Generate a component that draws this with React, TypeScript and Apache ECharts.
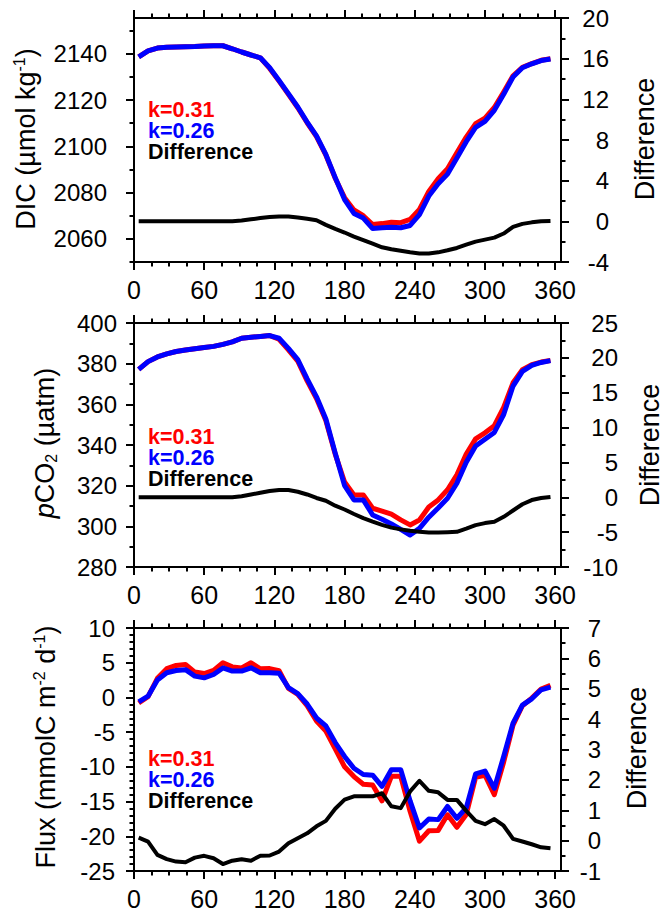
import React, { useEffect, useRef } from 'react';
import * as echarts from 'echarts';

const DAYS = [4, 12, 20, 28, 36, 44, 52, 60, 68, 76, 84, 92, 100, 108, 116, 124, 132, 140, 148, 156, 164, 172, 180, 188, 196, 204, 212, 220, 228, 236, 244, 252, 260, 268, 276, 284, 292, 300, 308, 316, 324, 332, 340, 348, 356];

const DIC_K031 = [2138.7, 2141.3, 2142.5, 2142.9, 2143.0, 2143.1, 2143.2, 2143.4, 2143.5, 2143.5, 2142.2, 2140.8, 2139.5, 2138.3, 2133.7, 2128.2, 2122.5, 2116.7, 2110.2, 2104.2, 2096.2, 2086.2, 2077.8, 2072.5, 2070.0, 2066.2, 2066.6, 2067.2, 2067.0, 2068.4, 2072.7, 2080.5, 2086.0, 2090.3, 2097.2, 2104.0, 2109.8, 2112.2, 2116.8, 2123.5, 2130.5, 2134.2, 2135.8, 2137.2, 2137.9];
const DIC_K026 = [2138.7, 2141.3, 2142.5, 2142.9, 2143.0, 2143.1, 2143.2, 2143.4, 2143.5, 2143.5, 2142.2, 2140.8, 2139.5, 2138.3, 2134.0, 2128.5, 2122.8, 2117.0, 2110.5, 2104.5, 2096.5, 2086.5, 2077.0, 2071.0, 2069.0, 2064.5, 2064.8, 2065.0, 2064.8, 2065.8, 2070.5, 2078.5, 2083.8, 2088.0, 2095.0, 2102.0, 2108.2, 2110.8, 2115.6, 2122.5, 2130.0, 2134.0, 2135.7, 2137.1, 2137.8];
const DIC_DIFF = [0.0, 0.0, 0.0, 0.0, 0.0, 0.0, 0.0, 0.0, 0.0, 0.0, 0.02, 0.08, 0.2, 0.32, 0.42, 0.48, 0.48, 0.38, 0.25, 0.1, -0.35, -0.75, -1.1, -1.5, -1.85, -2.2, -2.55, -2.75, -2.9, -3.05, -3.16, -3.16, -3.05, -2.85, -2.62, -2.3, -2.0, -1.8, -1.6, -1.2, -0.55, -0.25, -0.1, 0.0, 0.03];

const PCO2_K031 = [377.2, 381.0, 383.3, 384.8, 386.0, 386.7, 387.3, 387.9, 388.5, 389.5, 390.7, 392.5, 393.0, 393.4, 393.8, 392.0, 386.8, 381.2, 371.5, 362.8, 352.0, 335.5, 321.8, 315.4, 315.4, 308.9, 307.5, 306.0, 303.2, 300.7, 303.1, 309.5, 313.0, 318.0, 325.3, 335.5, 343.0, 346.0, 349.5, 358.5, 370.6, 377.0, 379.5, 380.8, 381.6];
const PCO2_K026 = [377.2, 381.0, 383.3, 384.8, 386.0, 386.7, 387.3, 387.9, 388.5, 389.5, 390.7, 392.5, 393.0, 393.4, 393.8, 392.5, 387.5, 382.0, 372.5, 363.7, 352.8, 336.0, 320.0, 313.0, 313.0, 305.6, 303.5, 301.2, 298.5, 295.7, 299.0, 304.5, 309.0, 313.8, 321.2, 331.5, 339.5, 342.8, 346.2, 355.0, 369.0, 376.2, 379.2, 380.6, 381.5];
const PCO2_DIFF = [0.0, 0.0, 0.0, 0.0, 0.0, 0.0, 0.0, 0.0, 0.0, 0.0, 0.0, 0.15, 0.4, 0.65, 0.9, 1.05, 1.05, 0.8, 0.4, -0.1, -0.5, -1.2, -1.75, -2.4, -3.0, -3.5, -3.95, -4.35, -4.6, -4.8, -4.95, -5.05, -5.05, -5.0, -4.95, -4.5, -4.0, -3.7, -3.5, -2.8, -1.9, -1.0, -0.4, -0.1, 0.05];

const FLUX_K031 = [-0.8, 0.1, 2.75, 4.15, 4.6, 4.75, 3.65, 3.44, 3.9, 5.0, 4.4, 4.25, 4.99, 4.12, 4.15, 3.85, 1.3, 0.45, -1.2, -3.4, -4.85, -7.4, -10.0, -11.4, -12.5, -12.6, -14.9, -11.37, -11.37, -16.4, -20.7, -19.2, -19.15, -16.9, -18.7, -16.85, -11.5, -11.2, -14.0, -9.3, -4.0, -1.2, -0.1, 1.2, 1.76];
const FLUX_K026 = [-0.64, 0.18, 2.5, 3.55, 3.88, 4.0, 3.07, 2.82, 3.3, 4.25, 3.8, 3.79, 4.27, 3.55, 3.55, 3.5, 1.4, 0.55, -0.95, -2.96, -4.1, -6.5, -8.5, -10.2, -11.1, -11.2, -12.8, -10.4, -10.4, -14.9, -18.8, -17.5, -17.6, -15.7, -17.4, -15.9, -11.0, -10.6, -13.1, -8.5, -3.7, -1.1, -0.2, 1.1, 1.48];
const FLUX_DIFF = [0.1, -0.03, -0.47, -0.61, -0.69, -0.71, -0.56, -0.5, -0.58, -0.77, -0.66, -0.61, -0.66, -0.5, -0.49, -0.36, -0.09, 0.08, 0.24, 0.47, 0.65, 1.05, 1.35, 1.46, 1.46, 1.46, 1.56, 1.13, 1.07, 1.62, 1.97, 1.64, 1.59, 1.34, 1.34, 0.98, 0.65, 0.54, 0.71, 0.49, 0.06, -0.03, -0.12, -0.22, -0.25];

const X_TICKS = [0, 60, 120, 180, 240, 300, 360];
const X_MINOR = [15, 30, 45, 75, 90, 105, 135, 150, 165, 195, 210, 225, 255, 270, 285, 315, 330, 345];

const DIC_TICKS = [2060, 2080, 2100, 2120, 2140];
const DIC_MINOR = [2050, 2070, 2090, 2110, 2130, 2150];
const DIC_DIFF_TICKS = [-4, 0, 4, 8, 12, 16, 20];
const DIC_DIFF_MINOR = [-2, 2, 6, 10, 14, 18];

const PCO2_TICKS = [280, 300, 320, 340, 360, 380, 400];
const PCO2_MINOR = [290, 310, 330, 350, 370, 390];
const PCO2_DIFF_TICKS = [-10, -5, 0, 5, 10, 15, 20, 25];
const PCO2_DIFF_MINOR = [-7.5, -2.5, 2.5, 7.5, 12.5, 17.5, 22.5];

const FLUX_TICKS = [-25, -20, -15, -10, -5, 0, 5, 10];
const FLUX_MINOR = [-24, -23, -22, -21, -19, -18, -17, -16, -14, -13, -12, -11, -9, -8, -7, -6, -4, -3, -2, -1, 1, 2, 3, 4, 6, 7, 8, 9];
const FLUX_DIFF_TICKS = [-1, 0, 1, 2, 3, 4, 5, 6, 7];
const FLUX_DIFF_MINOR = [-0.5, 0.5, 1.5, 2.5, 3.5, 4.5, 5.5, 6.5];

const LEGEND_LABELS = ['k=0.31', 'k=0.26', 'Difference'];
const COLORS = ['#ff0000', '#0000ff', '#000000'];

const FONT = '"Liberation Sans", Arial, Helvetica, sans-serif';

const PANELS = [
  {
    top: 18, height: 244,
    left: { min: 2050, max: 2155.5, ticks: DIC_TICKS, minor: DIC_MINOR, margin: 27 },
    right: { min: -4, max: 20, ticks: DIC_DIFF_TICKS, minor: DIC_DIFF_MINOR, margin: 48 },
    red: DIC_K031, blue: DIC_K026, diff: DIC_DIFF,
    legendTop: 99.5,
    leftTitle: { x: 26, y: 139, text: '{n|DIC (µmol kg}{s|-1}{n|)}' },
    rightTitle: { x: 645, y: 139 },
  },
  {
    top: 323, height: 244,
    left: { min: 280, max: 400, ticks: PCO2_TICKS, minor: PCO2_MINOR, margin: 17 },
    right: { min: -10, max: 25, ticks: PCO2_DIFF_TICKS, minor: PCO2_DIFF_MINOR, margin: 57 },
    red: PCO2_K031, blue: PCO2_K026, diff: PCO2_DIFF,
    legendTop: 426.2,
    leftTitle: { x: 45, y: 443, text: '{i|p}{n|CO}{b|2}{n| (µatm)}' },
    rightTitle: { x: 650, y: 445 },
  },
  {
    top: 628, height: 243,
    left: { min: -25, max: 10, ticks: FLUX_TICKS, minor: FLUX_MINOR, margin: 19 },
    right: { min: -1, max: 7, ticks: FLUX_DIFF_TICKS, minor: FLUX_DIFF_MINOR, margin: 40 },
    red: FLUX_K031, blue: FLUX_K026, diff: FLUX_DIFF,
    legendTop: 748.8,
    leftTitle: { x: 46, y: 747, text: '{n|Flux (mmolC m}{s|-2}{n| d}{s|-1}{n|)}' },
    rightTitle: { x: 637, y: 748 },
  },
];

const GRID_LEFT = 134;
const GRID_WIDTH = 427;

function buildOption() {
  const grid: any[] = [];
  const xAxis: any[] = [];
  const yAxis: any[] = [];
  const series: any[] = [];
  const elements: any[] = [];

  const line = { show: true, onZero: false, lineStyle: { color: '#000', width: 2 } };
  const fmt = (v: number) => String(v);
  const labelBase = { color: '#000', fontSize: 24, fontFamily: FONT, hideOverlap: false, formatter: fmt };
  const majorTick = (vals: number[]) => ({ show: true, inside: false, length: 8, lineStyle: { color: '#000', width: 2 }, customValues: vals });
  const minorTick = (vals: number[]) => ({ show: true, inside: false, length: 4.5, lineStyle: { color: '#000', width: 2 }, customValues: vals });
  const hidden = { show: false, onZero: false };

  PANELS.forEach((p, gi) => {
    grid.push({ left: GRID_LEFT, width: GRID_WIDTH, top: p.top, height: p.height, containLabel: false });
    const xBase = { type: 'value', gridIndex: gi, min: 0, max: 365, splitLine: { show: false } };
    const xMain = xAxis.length;
    xAxis.push({ ...xBase, position: 'bottom', axisLine: line, axisTick: majorTick(X_TICKS),
      axisLabel: { ...labelBase, fontSize: 25, show: true, margin: 15, customValues: X_TICKS } });
    xAxis.push({ ...xBase, position: 'bottom', axisLine: hidden, axisTick: minorTick(X_MINOR), axisLabel: { show: false } });
    xAxis.push({ ...xBase, position: 'top', axisLine: line, axisTick: majorTick(X_TICKS), axisLabel: { show: false } });
    xAxis.push({ ...xBase, position: 'top', axisLine: hidden, axisTick: minorTick(X_MINOR), axisLabel: { show: false } });

    const yLeft = yAxis.length;
    yAxis.push({ type: 'value', gridIndex: gi, position: 'left', min: p.left.min, max: p.left.max,
      splitLine: { show: false }, axisLine: line, axisTick: majorTick(p.left.ticks),
      axisLabel: { ...labelBase, show: true, margin: p.left.margin, customValues: p.left.ticks } });
    yAxis.push({ type: 'value', gridIndex: gi, position: 'left', min: p.left.min, max: p.left.max,
      splitLine: { show: false }, axisLine: hidden, axisTick: minorTick(p.left.minor), axisLabel: { show: false } });
    const yRight = yAxis.length;
    yAxis.push({ type: 'value', gridIndex: gi, position: 'right', min: p.right.min, max: p.right.max,
      splitLine: { show: false }, axisLine: line, axisTick: majorTick(p.right.ticks),
      axisLabel: { ...labelBase, show: true, align: 'right', margin: p.right.margin, customValues: p.right.ticks } });
    yAxis.push({ type: 'value', gridIndex: gi, position: 'right', min: p.right.min, max: p.right.max,
      splitLine: { show: false }, axisLine: hidden, axisTick: minorTick(p.right.minor), axisLabel: { show: false } });

    const mk = (vals: number[]) => DAYS.map((d, i) => [d, vals[i]]);
    series.push({
      type: 'line', name: LEGEND_LABELS[0] + ' ' + gi, xAxisIndex: xMain, yAxisIndex: yLeft,
      data: mk(p.red), showSymbol: false, symbol: 'none', lineStyle: { color: COLORS[0], width: 5, join: 'round' }, z: 2,
    });
    series.push({
      type: 'line', name: LEGEND_LABELS[1] + ' ' + gi, xAxisIndex: xMain, yAxisIndex: yLeft,
      data: mk(p.blue), showSymbol: false, symbol: 'none', lineStyle: { color: COLORS[1], width: 5, join: 'round' }, z: 3,
    });
    series.push({
      type: 'line', name: LEGEND_LABELS[2] + ' ' + gi, xAxisIndex: xMain, yAxisIndex: yRight,
      data: mk(p.diff), showSymbol: false, symbol: 'none', lineStyle: { color: COLORS[2], width: 4, join: 'round' }, z: 4,
    });

    const tok = (c: string) => ({ fontSize: 21.5, fontWeight: 'bold', fontFamily: FONT, fill: c, color: c, lineHeight: 21 });
    elements.push({
      type: 'text', x: 148, y: p.legendTop,
      style: {
        text: `{r|${LEGEND_LABELS[0]}}\n{b|${LEGEND_LABELS[1]}}\n{k|${LEGEND_LABELS[2]}}`,
        rich: { r: tok(COLORS[0]), b: tok(COLORS[1]), k: tok(COLORS[2]) },
        align: 'left', verticalAlign: 'top', font: `bold 21.5px ${FONT}`, lineHeight: 21,
      },
    });

    const rich = {
      n: { fontSize: 27, fontFamily: FONT, fill: '#000' },
      i: { fontSize: 27, fontFamily: FONT, fontStyle: 'italic', fill: '#000' },
      s: { fontSize: 16, fontFamily: FONT, fill: '#000', padding: [0, 0, 14, 0] },
      b: { fontSize: 16, fontFamily: FONT, fill: '#000', padding: [12, 0, 0, 0] },
    };
    elements.push({
      type: 'text', x: p.leftTitle.x, y: p.leftTitle.y, rotation: Math.PI / 2,
      style: { text: p.leftTitle.text, rich, fill: '#000', align: 'center', verticalAlign: 'middle', font: `27px ${FONT}` },
    });
    elements.push({
      type: 'text', x: p.rightTitle.x, y: p.rightTitle.y, rotation: Math.PI / 2,
      style: { text: 'Difference', fill: '#000', align: 'center', verticalAlign: 'middle', font: `27px ${FONT}` },
    });
  });

  return {
    animation: false,
    backgroundColor: '#fff',
    grid, xAxis, yAxis, series,
    graphic: { elements },
  };
}

export default function App() {
  const ref = useRef<HTMLDivElement>(null);
  useEffect(() => {
    if (!ref.current) return;
    const chart = echarts.init(ref.current, undefined, { renderer: 'svg' });
    chart.setOption(buildOption() as any);
    return () => chart.dispose();
  }, []);
  return <div ref={ref} style={{ position: 'absolute', left: 0, top: 0, width: 666, height: 912, background: '#fff' }} />;
}
